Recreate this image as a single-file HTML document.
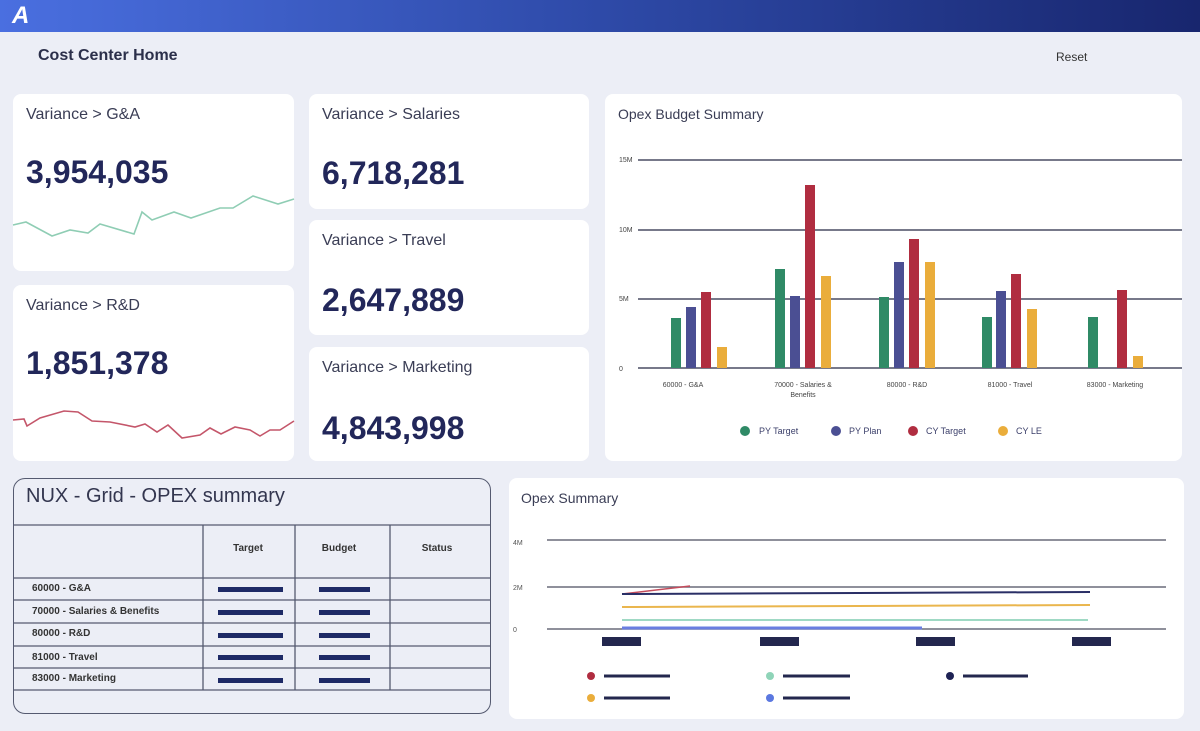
<!DOCTYPE html>
<html><head><meta charset="utf-8"><style>
body{margin:0;width:1200px;height:731px;background:#eceef6;font-family:"Liberation Sans",sans-serif;position:relative;overflow:hidden;color:#2b2f4a}
.a{position:absolute}
.card{position:absolute;background:#fff;border-radius:8px}
.t{position:absolute;left:13px;top:12px;font-size:16px;color:#3a3d55}
.n{position:absolute;left:13px;font-size:32px;color:#22275a;font-weight:bold;letter-spacing:0px}
</style></head><body>
<div class="a" style="left:0;top:0;width:1200px;height:32px;background:linear-gradient(90deg,#4a6fe0,#2e4aa8 50%,#18266e)"></div>
<div class="a" style="left:12px;top:2px;font-size:24px;color:#fff;font-weight:bold;font-style:italic">A</div>
<div class="a" style="left:38px;top:47px;font-size:16px;font-weight:bold;color:#2b2f4a">Cost Center Home</div>
<div class="a" style="left:1056px;top:50px;font-size:12px;color:#333">Reset</div>

<div class="card" style="left:13px;top:94px;width:281px;height:177px"><div class="t">Variance &gt; G&amp;A</div><div class="n" style="top:60px">3,954,035</div></div>
<div class="card" style="left:13px;top:285px;width:281px;height:176px"><div class="t">Variance &gt; R&amp;D</div><div class="n" style="top:60px">1,851,378</div></div>
<div class="card" style="left:309px;top:94px;width:280px;height:115px"><div class="t">Variance &gt; Salaries</div><div class="n" style="top:61px">6,718,281</div></div>
<div class="card" style="left:309px;top:220px;width:280px;height:115px"><div class="t">Variance &gt; Travel</div><div class="n" style="top:62px">2,647,889</div></div>
<div class="card" style="left:309px;top:347px;width:280px;height:114px"><div class="t">Variance &gt; Marketing</div><div class="n" style="top:63px">4,843,998</div></div>
<div class="card" style="left:605px;top:94px;width:577px;height:367px"><div class="t" style="left:13px;top:12px;font-size:14px">Opex Budget Summary</div></div>
<div class="card" style="left:509px;top:478px;width:675px;height:241px"><div class="t" style="left:12px;top:12px;font-size:14px">Opex Summary</div></div>
<div class="a" style="left:13px;top:478px;width:476px;height:234px;border:1.5px solid #555a70;border-radius:12px"></div>
<div class="a" style="left:26px;top:485px;font-size:20px;color:#33364f">NUX - Grid - OPEX summary</div>

<svg class="a" style="left:0;top:0" width="1200" height="731">
<polyline fill="none" stroke="#8fcdb4" stroke-width="1.6" points="13,225 26,222 52,236 70,230 88,233 100,224 134,234 142,212 152,220 174,212 191,218 220,208 233,208 253,196 278,204 294,199"/>
<polyline fill="none" stroke="#c4566a" stroke-width="1.6" points="13,420 24,419 27,426 40,418 64,411 78,412 92,421 110,422 135,427 145,424 157,432 168,425 182,438 200,435 210,428 221,434 235,427 250,430 260,436 270,430 280,430 294,421"/>
<g stroke="#4a4d63" stroke-width="1.6">
<line x1="638" y1="160" x2="1182" y2="160"/><line x1="638" y1="230" x2="1182" y2="230"/><line x1="638" y1="299" x2="1182" y2="299"/><line x1="638" y1="368" x2="1182" y2="368"/></g>
<g font-size="7" fill="#444" font-family="Liberation Sans">
<text x="619" y="162">15M</text><text x="619" y="232">10M</text><text x="619" y="301">5M</text><text x="619" y="371">0</text>
<g text-anchor="middle"><text x="683" y="387">60000 - G&amp;A</text><text x="803" y="387">70000 - Salaries &amp;</text><text x="803" y="397">Benefits</text><text x="907" y="387">80000 - R&amp;D</text><text x="1010" y="387">81000 - Travel</text><text x="1115" y="387">83000 - Marketing</text></g></g>
<g>
<rect x="671" y="318" width="10" height="50" fill="#2f8a66"/><rect x="686" y="307" width="10" height="61" fill="#4b4f93"/><rect x="701" y="292" width="10" height="76" fill="#b02d40"/><rect x="717" y="347" width="10" height="21" fill="#eaad3b"/>
<rect x="775" y="269" width="10" height="99" fill="#2f8a66"/><rect x="790" y="296" width="10" height="72" fill="#4b4f93"/><rect x="805" y="185" width="10" height="183" fill="#b02d40"/><rect x="821" y="276" width="10" height="92" fill="#eaad3b"/>
<rect x="879" y="297" width="10" height="71" fill="#2f8a66"/><rect x="894" y="262" width="10" height="106" fill="#4b4f93"/><rect x="909" y="239" width="10" height="129" fill="#b02d40"/><rect x="925" y="262" width="10" height="106" fill="#eaad3b"/>
<rect x="982" y="317" width="10" height="51" fill="#2f8a66"/><rect x="996" y="291" width="10" height="77" fill="#4b4f93"/><rect x="1011" y="274" width="10" height="94" fill="#b02d40"/><rect x="1027" y="309" width="10" height="59" fill="#eaad3b"/>
<rect x="1088" y="317" width="10" height="51" fill="#2f8a66"/><rect x="1117" y="290" width="10" height="78" fill="#b02d40"/><rect x="1133" y="356" width="10" height="12" fill="#eaad3b"/>
</g>
<g font-size="9" fill="#3b3f6a" font-family="Liberation Sans">
<circle cx="745" cy="431" r="5" fill="#2f8a66"/><text x="759" y="434">PY Target</text>
<circle cx="836" cy="431" r="5" fill="#4b4f93"/><text x="849" y="434">PY Plan</text>
<circle cx="913" cy="431" r="5" fill="#b02d40"/><text x="926" y="434">CY Target</text>
<circle cx="1003" cy="431" r="5" fill="#eaad3b"/><text x="1016" y="434">CY LE</text></g>
<g stroke="#6a6c7a" stroke-width="1.6"><line x1="547" y1="540" x2="1166" y2="540"/><line x1="547" y1="587" x2="1166" y2="587"/><line x1="547" y1="629" x2="1166" y2="629"/></g>
<g font-size="7" fill="#555" font-family="Liberation Sans"><text x="513" y="545">4M</text><text x="513" y="590">2M</text><text x="513" y="632">0</text></g>
<line x1="622" y1="628" x2="922" y2="628" stroke="#6a7ee0" stroke-width="3"/>
<line x1="622" y1="620" x2="1088" y2="620" stroke="#9fd9c4" stroke-width="2"/>
<line x1="622" y1="607" x2="1090" y2="605" stroke="#eab64e" stroke-width="2"/>
<line x1="622" y1="594" x2="690" y2="586" stroke="#c44c5c" stroke-width="1.5"/>
<line x1="622" y1="594" x2="1090" y2="592" stroke="#2a2f66" stroke-width="2"/>
<g fill="#23274e"><rect x="602" y="637" width="39" height="9"/><rect x="760" y="637" width="39" height="9"/><rect x="916" y="637" width="39" height="9"/><rect x="1072" y="637" width="39" height="9"/></g>
<g stroke="#23274e" stroke-width="3">
<line x1="604" y1="676" x2="670" y2="676"/><line x1="783" y1="676" x2="850" y2="676"/><line x1="963" y1="676" x2="1028" y2="676"/>
<line x1="604" y1="698" x2="670" y2="698"/><line x1="783" y1="698" x2="850" y2="698"/></g>
<circle cx="591" cy="676" r="4" fill="#b02d40"/><circle cx="770" cy="676" r="4" fill="#8fd4b8"/><circle cx="950" cy="676" r="4" fill="#1e2254"/>
<circle cx="591" cy="698" r="4" fill="#eaad3b"/><circle cx="770" cy="698" r="4" fill="#5b78e0"/>
<g stroke="#555a70" stroke-width="1.3">
<line x1="14" y1="525" x2="490" y2="525"/><line x1="14" y1="578" x2="490" y2="578"/><line x1="14" y1="600" x2="490" y2="600"/><line x1="14" y1="623" x2="490" y2="623"/><line x1="14" y1="646" x2="490" y2="646"/><line x1="14" y1="668" x2="490" y2="668"/><line x1="14" y1="690" x2="490" y2="690"/>
<line x1="203" y1="525" x2="203" y2="690"/><line x1="295" y1="525" x2="295" y2="690"/><line x1="390" y1="525" x2="390" y2="690"/></g>
<g font-size="10" font-weight="bold" fill="#333" font-family="Liberation Sans">
<text x="248" y="551" text-anchor="middle">Target</text><text x="339" y="551" text-anchor="middle">Budget</text><text x="437" y="551" text-anchor="middle">Status</text>
<text x="32" y="591">60000 - G&amp;A</text><text x="32" y="614">70000 - Salaries &amp; Benefits</text><text x="32" y="636">80000 - R&amp;D</text><text x="32" y="660">81000 - Travel</text><text x="32" y="681">83000 - Marketing</text></g>
<g fill="#1e2a66"><rect x="218" y="587" width="65" height="5"/><rect x="319" y="587" width="51" height="5"/>
<rect x="218" y="610" width="65" height="5"/><rect x="319" y="610" width="51" height="5"/>
<rect x="218" y="633" width="65" height="5"/><rect x="319" y="633" width="51" height="5"/>
<rect x="218" y="655" width="65" height="5"/><rect x="319" y="655" width="51" height="5"/>
<rect x="218" y="678" width="65" height="5"/><rect x="319" y="678" width="51" height="5"/></g>
</svg>
</body></html>
